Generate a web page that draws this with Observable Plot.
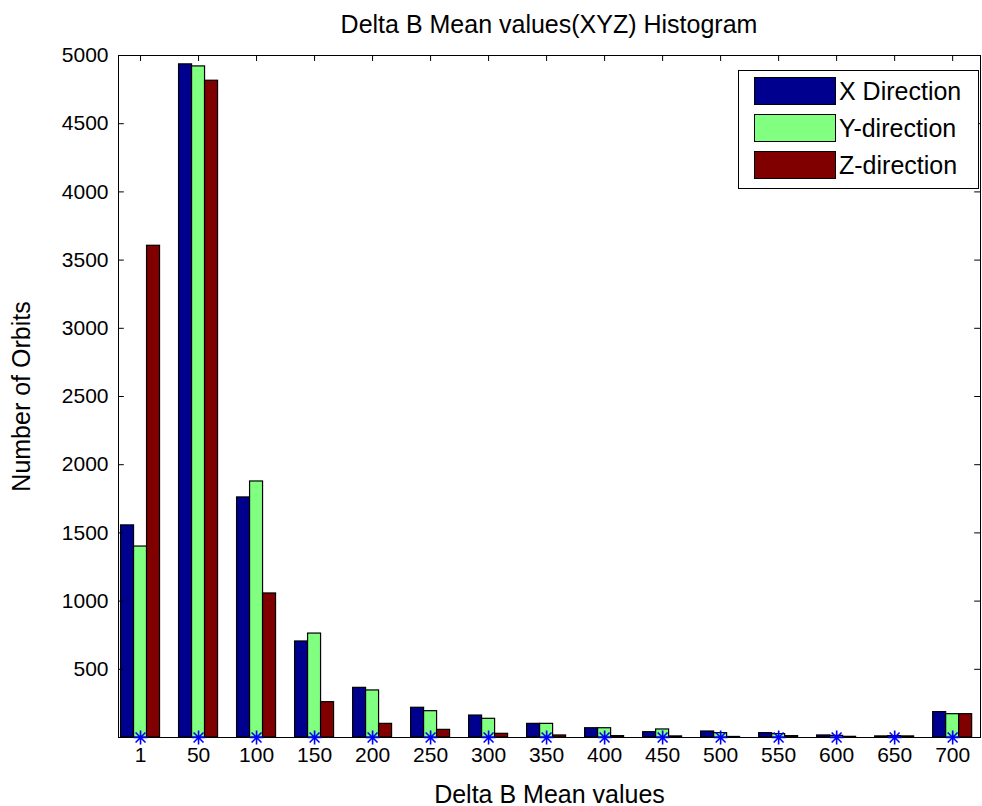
<!DOCTYPE html>
<html><head><meta charset="utf-8">
<script src="https://cdn.jsdelivr.net/npm/d3@7"></script>
<script src="https://cdn.jsdelivr.net/npm/@observablehq/plot@0.6"></script>
<style>
body{margin:0;background:#fff;font-family:"Liberation Sans",Arial,sans-serif;color:#000;}
#wrap{position:relative;width:982px;height:806px;overflow:hidden;}
#title{height:40px;}
#titleText{position:absolute;top:9px;left:118px;width:862px;text-align:center;font-size:25px;line-height:30px;white-space:nowrap;}
#legend{position:absolute;left:738px;top:70px;width:241px;height:119px;border:1px solid #000;background:#fff;box-sizing:border-box;}
.sw{position:absolute;left:15px;width:82px;height:28px;border:1px solid #000;box-sizing:border-box;}
.lt{position:absolute;left:100px;font-size:25px;line-height:28px;white-space:nowrap;}
</style></head><body>
<div id="wrap"><div id="title"></div><div id="titleText"></div><div id="chart"></div><div id="legend"></div></div>
<script>
const titleText = "Delta B Mean values(XYZ) Histogram";
const xLabel = "Delta B Mean values";
const yLabel = "Number of Orbits";
const categories = ["1","50","100","150","200","250","300","350","400","450","500","550","600","650","700"];
const seriesNames = ["X Direction","Y-direction","Z-direction"];
const seriesColors = ["#00008f","#80ff80","#800000"];
const xDir = [1555, 4935, 1760, 704, 364, 218, 161, 100, 68, 39, 44, 32, 15, 8, 186];
const yDir = [1400, 4920, 1877, 762, 345, 193, 137, 100, 68, 59, 32, 25, 12, 10, 171];
const zDir = [3605, 4815, 1056, 259, 100, 56, 27, 15, 10, 8, 4, 10, 5, 8, 171];
const yTicks = [500,1000,1500,2000,2500,3000,3500,4000,4500,5000];

document.getElementById("titleText").textContent = titleText;

const series = [xDir, yDir, zDir];
const w = 0.224;
const xDom = [-0.38, 14.48];
const yDom = [0, 5000];
const data = [];
series.forEach((vals, s) => vals.forEach((v, i) => {
  const c = i + (s - 1) * w;
  data.push({i, s: seriesNames[s], x1: c - w/2, x2: c + w/2, value: v});
}));
const idx = d3.range(categories.length);
const tkX = 0.1, tkY = 44;

const star = {
  draw(ctx, size) {
    const r = Math.sqrt(size / Math.PI), d = r * Math.SQRT1_2;
    ctx.moveTo(-r, 0); ctx.lineTo(r, 0);
    ctx.moveTo(0, -r); ctx.lineTo(0, r);
    ctx.moveTo(-d, -d); ctx.lineTo(d, d);
    ctx.moveTo(-d, d); ctx.lineTo(d, -d);
  }
};

const chart = Plot.plot({
  width: 982, height: 766,
  marginTop: 15, marginLeft: 118, marginRight: 2, marginBottom: 69,
  style: {fontSize: "21px", fontFamily: "'Liberation Sans', Arial, sans-serif", color: "#000", background: "#fff"},
  x: {type: "linear", domain: xDom},
  y: {domain: yDom},
  color: {domain: seriesNames, range: seriesColors},
  marks: [
    Plot.rectY(data, {x1: "x1", x2: "x2", y: "value", fill: "s", stroke: "black", strokeWidth: 1.2}),
    Plot.frame({stroke: "black", strokeWidth: 1}),
    Plot.ruleY(yTicks, {y: d => d, x1: xDom[0], x2: xDom[0] + tkX, stroke: "black"}),
    Plot.ruleY(yTicks, {y: d => d, x1: xDom[1] - tkX, x2: xDom[1], stroke: "black"}),
    Plot.ruleX(idx, {x: d => d, y1: yDom[1], y2: yDom[1] - tkY, stroke: "black"}),
    Plot.ruleX(idx, {x: d => d, y1: 0, y2: tkY, stroke: "black"}),
    Plot.axisY({ticks: yTicks, tickFormat: d => String(d), tickSize: 0, tickPadding: 10, label: null}),
    Plot.axisY({ticks: [], tickSize: 0, label: yLabel, labelAnchor: "center", labelOffset: 106, labelArrow: "none", fontSize: 25}),
    Plot.axisX({ticks: idx, tickFormat: i => categories[i], tickSize: 0, tickPadding: 10, label: null}),
    Plot.axisX({ticks: [], tickSize: 0, label: xLabel, labelAnchor: "center", labelOffset: 65, labelArrow: "none", fontSize: 25}),
    Plot.dot(idx, {x: d => d, y: 0, symbol: star, stroke: "#0000ff", r: 7, strokeWidth: 1.6})
  ]
});
document.getElementById("chart").appendChild(chart);

const leg = document.getElementById("legend");
seriesNames.forEach((n, k) => {
  const top = 6 + k * 37;
  const sw = document.createElement("div");
  sw.className = "sw"; sw.style.top = top + "px"; sw.style.background = seriesColors[k];
  leg.appendChild(sw);
  const t = document.createElement("div");
  t.className = "lt"; t.style.top = top + "px"; t.textContent = n;
  leg.appendChild(t);
});
</script>
</body></html>
